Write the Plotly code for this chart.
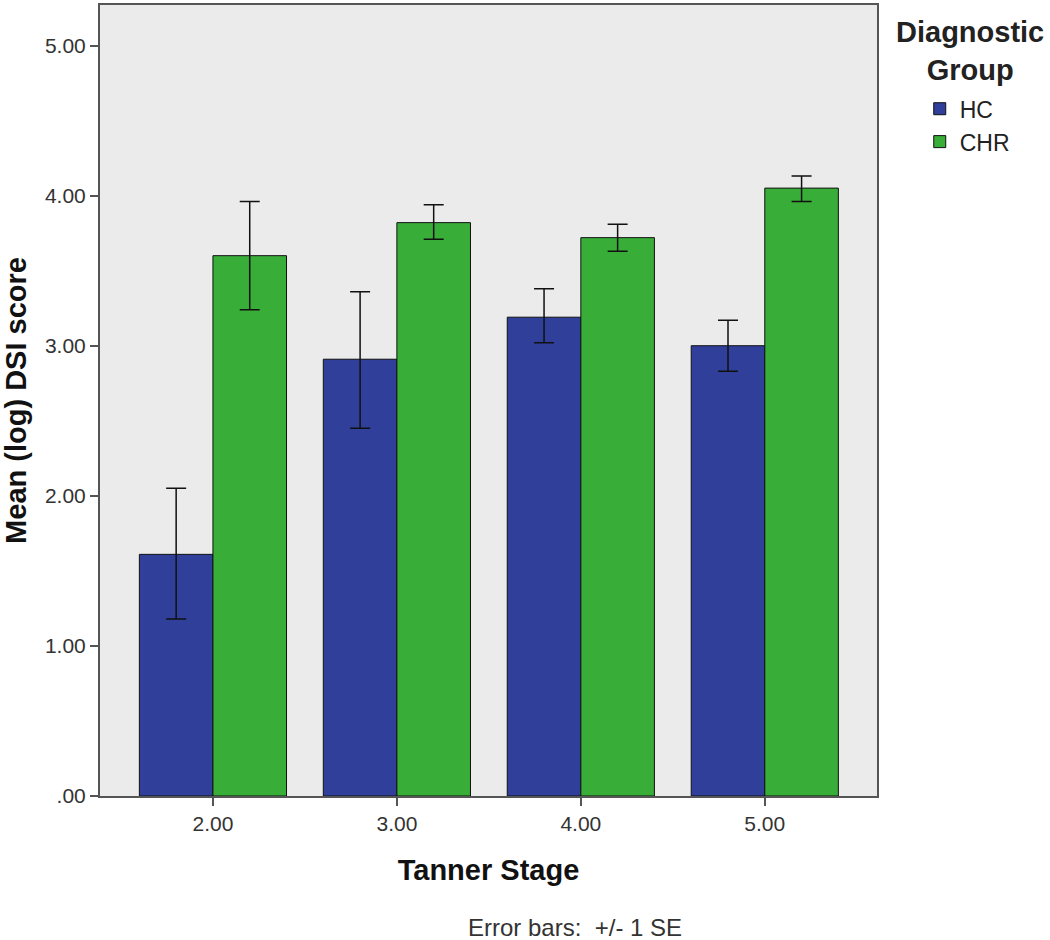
import plotly.graph_objects as go

# ---- data ----
tanner_stages = ["2.00", "3.00", "4.00", "5.00"]

hc_mean = [1.61, 2.91, 3.19, 3.00]
hc_upper = [2.05, 3.36, 3.38, 3.17]
hc_lower = [1.18, 2.45, 3.02, 2.83]

chr_mean = [3.60, 3.82, 3.72, 4.05]
chr_upper = [3.96, 3.94, 3.81, 4.13]
chr_lower = [3.24, 3.71, 3.63, 3.96]

y_tick_vals = [0, 1, 2, 3, 4, 5]
y_tick_text = [".00", "1.00", "2.00", "3.00", "4.00", "5.00"]

FONT = "Liberation Sans, Arial, sans-serif"


def plus(upper, mean):
    return [u - m for u, m in zip(upper, mean)]


def minus(lower, mean):
    return [m - l for l, m in zip(lower, mean)]


fig = go.Figure()
fig.add_trace(go.Bar(
    name="HC", x=tanner_stages, y=hc_mean,
    marker=dict(color="#2F3F9A", line=dict(color="#111111", width=1)),
    error_y=dict(type="data", symmetric=False,
                 array=plus(hc_upper, hc_mean),
                 arrayminus=minus(hc_lower, hc_mean),
                 color="#111111", thickness=1.5, width=10),
))
fig.add_trace(go.Bar(
    name="CHR", x=tanner_stages, y=chr_mean,
    marker=dict(color="#38AD38", line=dict(color="#111111", width=1)),
    error_y=dict(type="data", symmetric=False,
                 array=plus(chr_upper, chr_mean),
                 arrayminus=minus(chr_lower, chr_mean),
                 color="#111111", thickness=1.5, width=10),
))

fig.update_layout(
    width=1050, height=940,
    margin=dict(l=100, r=173, t=3, b=144),
    paper_bgcolor="white",
    plot_bgcolor="#EBEBEB",
    barmode="group",
    bargap=0.2,
    bargroupgap=0,
    font=dict(family=FONT, color="#222222"),
    legend=dict(
        font=dict(size=23, color="#222222"),
        x=1.055, xanchor="left", y=0.896, yanchor="top",
        bgcolor="rgba(0,0,0,0)",
        tracegroupgap=4,
    ),
    annotations=[
        dict(text="<b>Diagnostic<br>Group</b>", xref="paper", yref="paper",
             x=1.12, y=0.942, xanchor="center", yanchor="middle",
             align="center", showarrow=False,
             font=dict(size=29, color="#222222")),
        dict(text="Error bars:  +/- 1 SE", xref="paper", yref="paper",
             x=0.611, y=-0.1665, xanchor="center", yanchor="middle",
             showarrow=False, font=dict(size=24, color="#333333")),
    ],
)

fig.update_xaxes(
    type="category",
    range=[-0.614, 3.61],
    showgrid=False,
    showline=True, linecolor="#555555", linewidth=2, mirror=True,
    ticks="outside", ticklen=8, tickwidth=2, tickcolor="#555555",
    tickfont=dict(size=21, color="#333333"),
    title=dict(text="<b>Tanner Stage</b>", font=dict(size=29, color="#111111"),
               standoff=25),
)
fig.update_yaxes(
    range=[0, 5.27],
    tickvals=y_tick_vals, ticktext=y_tick_text,
    showgrid=False, zeroline=False,
    showline=True, linecolor="#555555", linewidth=2, mirror=True,
    ticks="outside", ticklen=8, tickwidth=2, tickcolor="#555555",
    tickfont=dict(size=21, color="#333333"),
    title=dict(text="<b>Mean (log) DSI score</b>", font=dict(size=29, color="#111111"),
               standoff=12),
)

fig.write_html("out.html", config={"displayModeBar": False},
               post_script="document.body.style.margin='0';")
